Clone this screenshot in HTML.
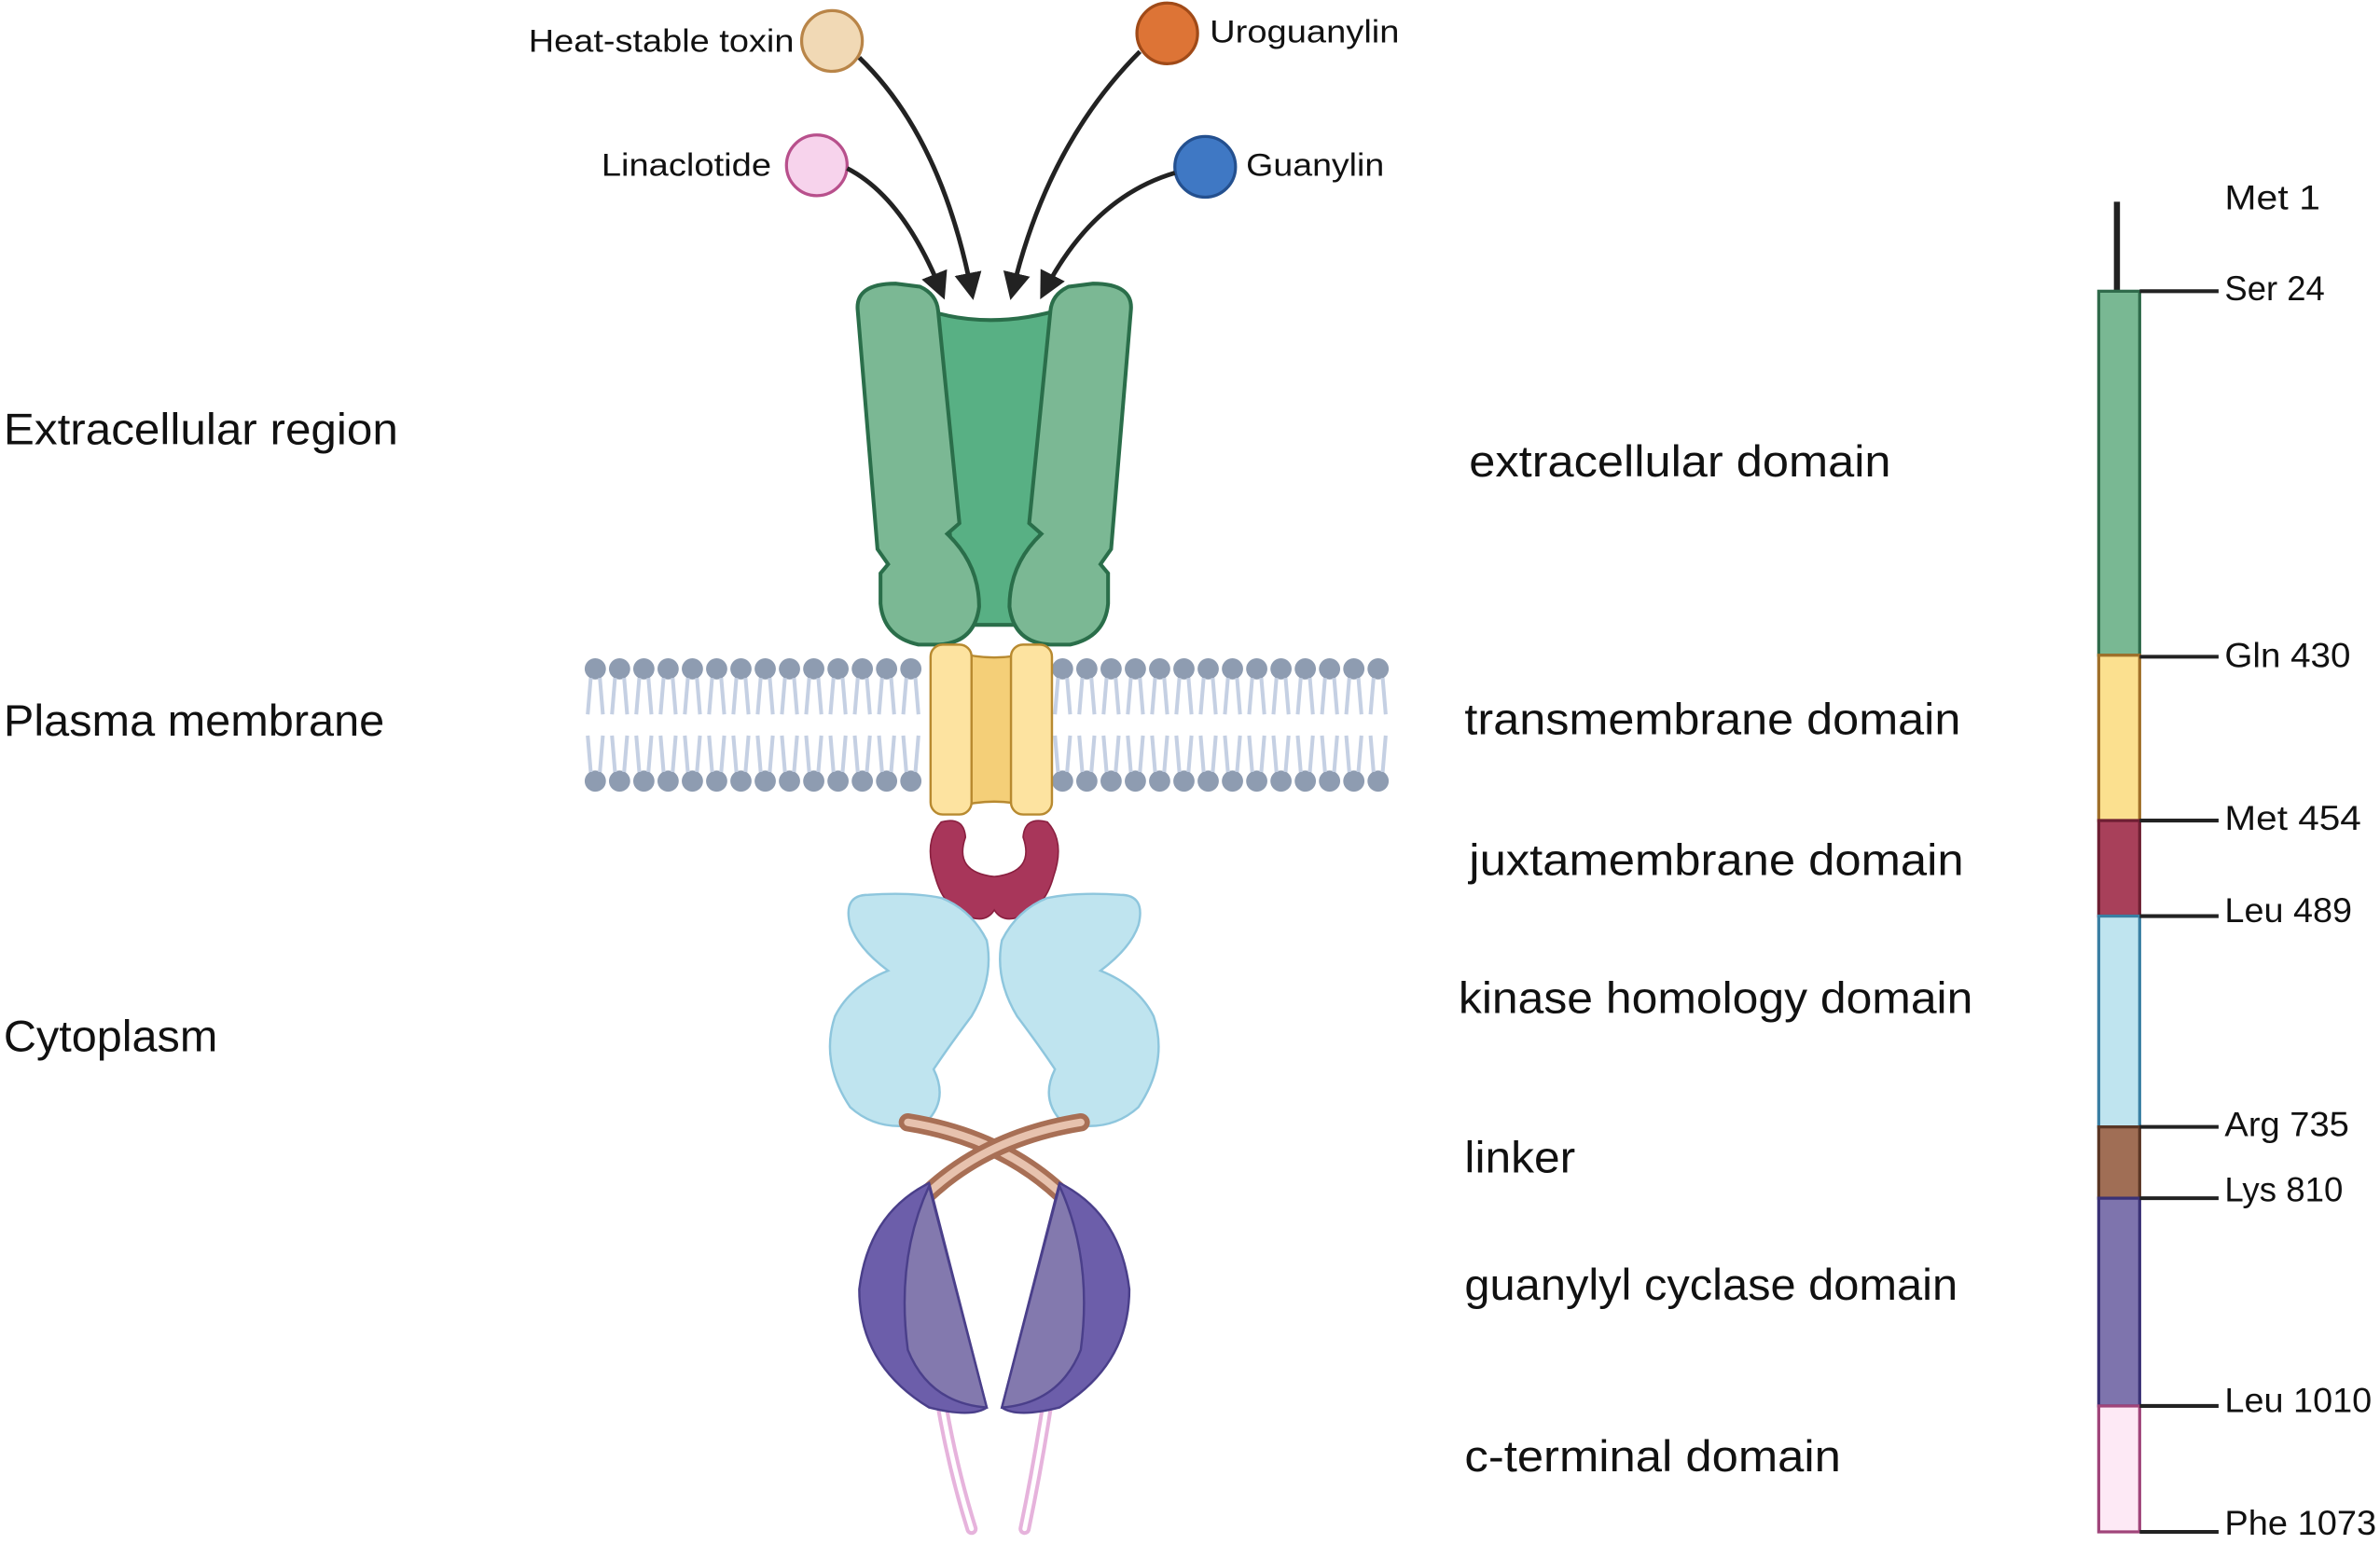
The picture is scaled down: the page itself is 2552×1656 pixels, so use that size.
<!DOCTYPE html>
<html><head><meta charset="utf-8"><style>
html,body{margin:0;padding:0;background:#fff;}
svg{display:block;}
text{font-family:"Liberation Sans",sans-serif;fill:#111;}
</style></head><body>
<svg width="2552" height="1656" viewBox="0 0 1568 1018" xmlns="http://www.w3.org/2000/svg">
<defs>
<marker id="ah" markerWidth="6" markerHeight="6" refX="4" refY="3" orient="auto" markerUnits="strokeWidth">
<path d="M0,0 L6,3 L0,6 Z" fill="#222"/></marker>
<g id="lipidTop"><ellipse cx="0" cy="0" rx="7" ry="7" fill="#8e9cb1"/><path d="M-3,6 L-5,30 M3,6 L5,30" stroke="#c5d0e3" stroke-width="2.5" fill="none"/></g>
<g id="lipidBot"><ellipse cx="0" cy="0" rx="7" ry="7" fill="#8e9cb1"/><path d="M-3,-6 L-5,-30 M3,-6 L5,-30" stroke="#c5d0e3" stroke-width="2.5" fill="none"/></g>
</defs>

<g lengthAdjust="spacingAndGlyphs">
<text x="2" y="293" font-size="29" textLength="260" lengthAdjust="spacingAndGlyphs">Extracellular region</text>
<text x="2" y="485" font-size="29" textLength="251" lengthAdjust="spacingAndGlyphs">Plasma membrane</text>
<text x="2" y="693" font-size="29" textLength="141" lengthAdjust="spacingAndGlyphs">Cytoplasm</text>

<text x="968" y="314" font-size="29" textLength="278" lengthAdjust="spacingAndGlyphs">extracellular domain</text>
<text x="965" y="484" font-size="29" textLength="327" lengthAdjust="spacingAndGlyphs">transmembrane domain</text>
<text x="968" y="577" font-size="29" textLength="326" lengthAdjust="spacingAndGlyphs">juxtamembrane domain</text>
<text x="961" y="668" font-size="29" textLength="339" lengthAdjust="spacingAndGlyphs">kinase homology domain</text>
<text x="965" y="773" font-size="29" textLength="73" lengthAdjust="spacingAndGlyphs">linker</text>
<text x="965" y="857" font-size="29" textLength="325" lengthAdjust="spacingAndGlyphs">guanylyl cyclase domain</text>
<text x="965" y="970" font-size="29" textLength="248" lengthAdjust="spacingAndGlyphs">c-terminal domain</text>
</g>

<!-- Right bar -->
<line x1="1395" y1="133" x2="1395" y2="192" stroke="#222" stroke-width="4"/>
<rect x="1383" y="192" width="27" height="240" fill="#79b893" stroke="#2f6a4a" stroke-width="2"/>
<rect x="1383" y="432" width="27" height="109" fill="#fbe08f" stroke="#a0702a" stroke-width="2"/>
<rect x="1383" y="541" width="27" height="63" fill="#a8405a" stroke="#6e1f33" stroke-width="2"/>
<rect x="1383" y="604" width="27" height="139" fill="#bfe4ef" stroke="#3a7fa3" stroke-width="2"/>
<rect x="1383" y="743" width="27" height="47" fill="#a06e55" stroke="#5a3625" stroke-width="2"/>
<rect x="1383" y="790" width="27" height="137" fill="#7e74ad" stroke="#3a3175" stroke-width="2"/>
<rect x="1383" y="927" width="27" height="83" fill="#fde9f5" stroke="#a0457a" stroke-width="2"/>
<g stroke="#222" stroke-width="2.5">
<line x1="1410" y1="192" x2="1462" y2="192"/><line x1="1410" y1="433" x2="1462" y2="433"/>
<line x1="1410" y1="541" x2="1462" y2="541"/><line x1="1410" y1="604" x2="1462" y2="604"/>
<line x1="1410" y1="743" x2="1462" y2="743"/><line x1="1410" y1="790" x2="1462" y2="790"/>
<line x1="1410" y1="927" x2="1462" y2="927"/><line x1="1410" y1="1010" x2="1462" y2="1010"/>
</g>
<g font-size="23">
<text x="1466" y="138" textLength="63" lengthAdjust="spacingAndGlyphs">Met 1</text>
<text x="1466" y="198" textLength="66" lengthAdjust="spacingAndGlyphs">Ser 24</text>
<text x="1466" y="440" textLength="83" lengthAdjust="spacingAndGlyphs">Gln 430</text>
<text x="1466" y="547" textLength="90" lengthAdjust="spacingAndGlyphs">Met 454</text>
<text x="1466" y="608" textLength="84" lengthAdjust="spacingAndGlyphs">Leu 489</text>
<text x="1466" y="749" textLength="82" lengthAdjust="spacingAndGlyphs">Arg 735</text>
<text x="1466" y="792" textLength="78" lengthAdjust="spacingAndGlyphs">Lys 810</text>
<text x="1466" y="931" textLength="97" lengthAdjust="spacingAndGlyphs">Leu 1010</text>
<text x="1466" y="1012" textLength="100" lengthAdjust="spacingAndGlyphs">Phe 1073</text>
</g>

<!-- Ligands -->
<circle cx="548" cy="27" r="20" fill="#f1d9b5" stroke="#b98548" stroke-width="2"/>
<circle cx="769" cy="22" r="20" fill="#dd7436" stroke="#a04a18" stroke-width="2"/>
<circle cx="538" cy="109" r="20" fill="#f7d3ec" stroke="#b8508c" stroke-width="2"/>
<circle cx="794" cy="110" r="20" fill="#3f78c4" stroke="#24508f" stroke-width="2"/>
<g font-size="21">
<text x="348" y="34" textLength="175" lengthAdjust="spacingAndGlyphs">Heat-stable toxin</text>
<text x="797" y="28" textLength="125" lengthAdjust="spacingAndGlyphs">Uroguanylin</text>
<text x="396" y="116" textLength="112" lengthAdjust="spacingAndGlyphs">Linaclotide</text>
<text x="821" y="116" textLength="91" lengthAdjust="spacingAndGlyphs">Guanylin</text>
</g>
<g stroke="#222" stroke-width="3" fill="none" marker-end="url(#ah)">
<path d="M566,38 Q620,90 640,192"/>
<path d="M751,34 Q690,95 667,192"/>
<path d="M558,111 Q595,130 620,192"/>
<path d="M774,114 Q720,130 688,192"/>
</g>

<!-- Membrane -->
<g>
<use href="#lipidTop" x="392" y="441"/><use href="#lipidTop" x="408" y="441"/><use href="#lipidTop" x="424" y="441"/><use href="#lipidTop" x="440" y="441"/><use href="#lipidTop" x="456" y="441"/><use href="#lipidTop" x="472" y="441"/><use href="#lipidTop" x="488" y="441"/><use href="#lipidTop" x="504" y="441"/><use href="#lipidTop" x="520" y="441"/><use href="#lipidTop" x="536" y="441"/><use href="#lipidTop" x="552" y="441"/><use href="#lipidTop" x="568" y="441"/><use href="#lipidTop" x="584" y="441"/><use href="#lipidTop" x="600" y="441"/>
<use href="#lipidTop" x="700" y="441"/><use href="#lipidTop" x="716" y="441"/><use href="#lipidTop" x="732" y="441"/><use href="#lipidTop" x="748" y="441"/><use href="#lipidTop" x="764" y="441"/><use href="#lipidTop" x="780" y="441"/><use href="#lipidTop" x="796" y="441"/><use href="#lipidTop" x="812" y="441"/><use href="#lipidTop" x="828" y="441"/><use href="#lipidTop" x="844" y="441"/><use href="#lipidTop" x="860" y="441"/><use href="#lipidTop" x="876" y="441"/><use href="#lipidTop" x="892" y="441"/><use href="#lipidTop" x="908" y="441"/>
<use href="#lipidBot" x="392" y="515"/><use href="#lipidBot" x="408" y="515"/><use href="#lipidBot" x="424" y="515"/><use href="#lipidBot" x="440" y="515"/><use href="#lipidBot" x="456" y="515"/><use href="#lipidBot" x="472" y="515"/><use href="#lipidBot" x="488" y="515"/><use href="#lipidBot" x="504" y="515"/><use href="#lipidBot" x="520" y="515"/><use href="#lipidBot" x="536" y="515"/><use href="#lipidBot" x="552" y="515"/><use href="#lipidBot" x="568" y="515"/><use href="#lipidBot" x="584" y="515"/><use href="#lipidBot" x="600" y="515"/>
<use href="#lipidBot" x="700" y="515"/><use href="#lipidBot" x="716" y="515"/><use href="#lipidBot" x="732" y="515"/><use href="#lipidBot" x="748" y="515"/><use href="#lipidBot" x="764" y="515"/><use href="#lipidBot" x="780" y="515"/><use href="#lipidBot" x="796" y="515"/><use href="#lipidBot" x="812" y="515"/><use href="#lipidBot" x="828" y="515"/><use href="#lipidBot" x="844" y="515"/><use href="#lipidBot" x="860" y="515"/><use href="#lipidBot" x="876" y="515"/><use href="#lipidBot" x="892" y="515"/><use href="#lipidBot" x="908" y="515"/>
</g>

<!-- Extracellular domain -->
<g stroke="#2a6e4a" stroke-width="2.5">
<path d="M612,205 Q655,218 702,203 L685,355 L690,368 Q672,385 668,412 L642,412 Q638,385 620,368 L626,355 Z" fill="#58b084"/>
<path d="M565,205 Q563,187 590,187 L606,189 Q617,194 618,205 L632,345 L624,352 Q645,372 645,400 Q642,424 618,425 L605,425 Q582,420 580,398 L580,378 L585,372 L578,362 Z" fill="#7bb894"/>
<path d="M745,205 Q747,187 720,187 L704,189 Q693,194 692,205 L678,345 L686,352 Q665,372 665,400 Q668,424 692,425 L705,425 Q728,420 730,398 L730,378 L725,372 L732,362 Z" fill="#7bb894"/>
</g>

<!-- Transmembrane -->
<g stroke="#b88a30" stroke-width="1.5">
<path d="M630,430 Q655,437 680,430 L680,532 Q655,525 630,532 Z" fill="#f4cf78"/>
<rect x="613" y="425" width="27" height="112" rx="8" fill="#fde3a0"/>
<rect x="666" y="425" width="27" height="112" rx="8" fill="#fde3a0"/>
</g>

<!-- Juxtamembrane -->
<path d="M620,542 Q635,538 636,552 Q628,575 655,578 Q682,575 674,552 Q675,538 690,542 Q702,555 694,578 Q688,600 670,605 Q660,608 655,600 Q650,608 640,605 Q622,600 616,578 Q608,555 620,542 Z" fill="#a8365a" stroke="#8a2040" stroke-width="1"/>

<!-- Kinase -->
<g fill="#bfe4ef" stroke="#8ec6dd" stroke-width="1.5">
<path d="M572,590 Q555,590 560,610 Q565,625 585,640 Q560,650 550,670 Q540,700 560,730 Q580,748 610,740 Q625,725 615,705 Q625,690 640,670 Q655,645 650,620 Q640,600 620,592 Q600,588 572,590 Z"/>
<path d="M738,590 Q755,590 750,610 Q745,625 725,640 Q750,650 760,670 Q770,700 750,730 Q730,748 700,740 Q685,725 695,705 Q685,690 670,670 Q655,645 660,620 Q670,600 690,592 Q710,588 738,590 Z"/>
</g>

<!-- Linker -->
<g fill="none" stroke-linecap="round">
<path d="M598,740 Q660,750 700,788" stroke="#a86f55" stroke-width="12"/>
<path d="M598,740 Q660,750 700,788" stroke="#e7c2ae" stroke-width="5"/>
<path d="M712,740 Q650,750 610,788" stroke="#a86f55" stroke-width="12"/>
<path d="M712,740 Q650,750 610,788" stroke="#e7c2ae" stroke-width="5"/>
</g>

<!-- Pink tails -->
<g fill="none" stroke-linecap="round">
<path d="M617,905 Q625,960 640,1008" stroke="#e6b3dc" stroke-width="8"/>
<path d="M617,905 Q625,960 640,1008" stroke="#fff" stroke-width="3"/>
<path d="M693,905 Q685,960 675,1008" stroke="#e6b3dc" stroke-width="8"/>
<path d="M693,905 Q685,960 675,1008" stroke="#fff" stroke-width="3"/>
</g>

<!-- Guanylyl cyclase -->
<g stroke="#4a3f8a" stroke-width="1.5">
<path d="M612,780 Q572,800 566,850 Q566,900 612,928 Q640,935 650,928 Z" fill="#6c5eaa"/>
<path d="M612,782 L650,928 Q612,925 598,890 Q590,830 612,782 Z" fill="#8379ae"/>
<path d="M698,780 Q738,800 744,850 Q744,900 698,928 Q670,935 660,928 Z" fill="#6c5eaa"/>
<path d="M698,782 L660,928 Q698,925 712,890 Q720,830 698,782 Z" fill="#8379ae"/>
</g>
</svg>
</body></html>
